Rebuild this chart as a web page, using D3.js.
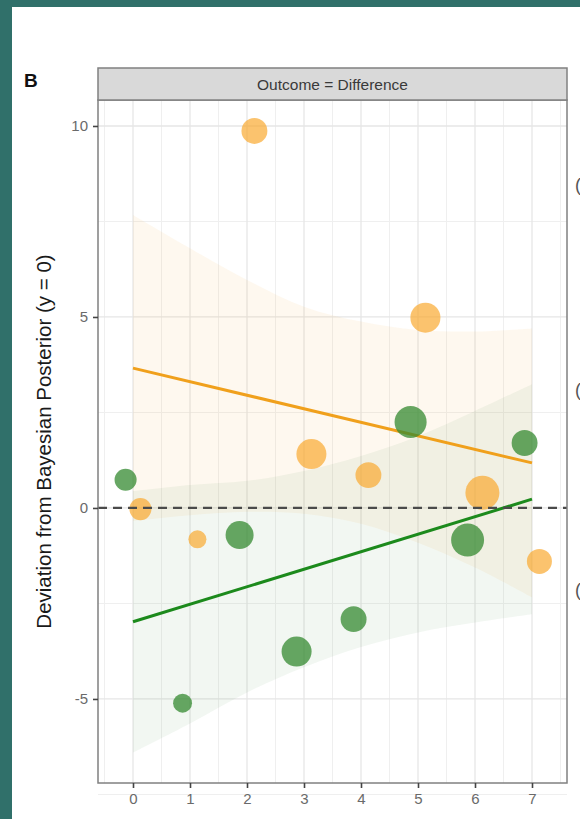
<!DOCTYPE html>
<html>
<head>
<meta charset="utf-8">
<script src="https://cdn.jsdelivr.net/npm/d3@7"></script>
<style>
  html, body { margin: 0; padding: 0; background: #30706a; }
  svg { display: block; }
</style>
</head>
<body>
<svg id="chart" width="580" height="819"></svg>
<script>
// ---- data ----
const doses = [0, 1, 2, 3, 4, 5, 6, 7];
const xTicks = [0, 1, 2, 3, 4, 5, 6, 7];
const yTicks = [-5, 0, 5, 10];
const stripLabel = "Outcome = Difference";
const yTitle = "Deviation from Bayesian Posterior (y = 0)";

// observed deviations per group
const greenValues  = [0.74, -5.11, -0.71, -3.76, -2.91, 2.25, -0.84, 1.70];
const orangeValues = [-0.03, -0.82, 9.87, 1.41, 0.86, 4.98, 0.40, -1.40];
// point weights (area encoded)
const greenWeights  = [42, 31, 68, 78, 58, 89, 94, 58];
const orangeWeights = [42, 28, 58, 78, 58, 78, 100, 54];

// fitted trend at first and last dose
const greenFit  = [-2.98, 0.23];
const orangeFit = [3.66, 1.18];

// confidence band per dose
const greenLower  = [-6.40, -5.64, -4.83, -4.17, -3.64, -3.26, -3.00, -2.78];
const greenUpper  = [0.44, 0.60, 0.71, 0.97, 1.36, 1.88, 2.54, 3.24];
const orangeLower = [-0.34, -0.19, -0.10, -0.15, -0.41, -0.91, -1.56, -2.34];
const orangeUpper = [7.67, 6.80, 5.97, 5.27, 4.88, 4.66, 4.62, 4.70];

// ---- layout ----
const svg = d3.select("#chart");
const font = "'Liberation Sans', Arial, Helvetica, sans-serif";
const P = { left: 98, right: 567, top: 100, bottom: 783 };
const stripTop = 68;
const dodge = 0.13;

const x = d3.scaleLinear().domain([-0.614, 7.614]).range([P.left, P.right]);
const y = d3.scaleLinear().domain([-7.2, 10.68]).range([P.bottom, P.top]);
const r = d3.scaleSqrt().domain([0, 100]).range([0, 17]);

// page background
svg.append("rect").attr("x", 12).attr("y", 7).attr("width", 568).attr("height", 812).attr("fill", "#ffffff");

// panel label
svg.append("text").attr("x", 24).attr("y", 87)
  .attr("font-family", font).attr("font-weight", "bold").attr("font-size", 19)
  .attr("fill", "#111").text("B");

// panel background
svg.append("rect").attr("x", P.left).attr("y", P.top)
  .attr("width", P.right - P.left).attr("height", P.bottom - P.top).attr("fill", "#fff");

const grid = svg.append("g");
// minor grid
const xMinor = d3.range(-0.5, 8, 1);
const yMinor = [-7.5, -2.5, 2.5, 7.5];
grid.selectAll(".xm").data(xMinor).join("line")
  .attr("x1", d => x(d)).attr("x2", d => x(d)).attr("y1", P.top).attr("y2", P.bottom)
  .attr("stroke", "#efefef").attr("stroke-width", 1);
grid.selectAll(".ym").data(yMinor).join("line")
  .attr("y1", d => y(d)).attr("y2", d => y(d)).attr("x1", P.left).attr("x2", P.right)
  .attr("stroke", "#efefef").attr("stroke-width", 1);
// major grid
grid.selectAll(".xM").data(xTicks).join("line")
  .attr("x1", d => x(d)).attr("x2", d => x(d)).attr("y1", P.top).attr("y2", P.bottom)
  .attr("stroke", "#e6e6e6").attr("stroke-width", 1.3);
grid.selectAll(".yM").data(yTicks).join("line")
  .attr("y1", d => y(d)).attr("y2", d => y(d)).attr("x1", P.left).attr("x2", P.right)
  .attr("stroke", "#e6e6e6").attr("stroke-width", 1.3);

// confidence bands
const band = (lo, hi) => d3.area()
  .x((d, i) => x(doses[i]))
  .y0((d, i) => y(lo[i]))
  .y1((d, i) => y(hi[i]))
  .curve(d3.curveCatmullRom)(doses);

svg.append("path").attr("d", band(orangeLower, orangeUpper))
  .attr("fill", "#f5a623").attr("fill-opacity", 0.075);
svg.append("path").attr("d", band(greenLower, greenUpper))
  .attr("fill", "#4a9444").attr("fill-opacity", 0.07);

// trend lines
const trend = (fit, color) => svg.append("line")
  .attr("x1", x(doses[0])).attr("y1", y(fit[0]))
  .attr("x2", x(doses[doses.length - 1])).attr("y2", y(fit[1]))
  .attr("stroke", color).attr("stroke-width", 3);
trend(orangeFit, "#f0a01c");
trend(greenFit, "#1c8a1c");

// points
const pts = (vals, wts, off, color, op) => svg.append("g").selectAll("circle")
  .data(vals.map((v, i) => ({ d: doses[i] + off, v, w: wts[i] })))
  .join("circle")
  .attr("cx", p => x(p.d)).attr("cy", p => y(p.v)).attr("r", p => r(p.w))
  .attr("fill", color).attr("fill-opacity", op);
pts(greenValues, greenWeights, -dodge, "#348a30", 0.75);
pts(orangeValues, orangeWeights, dodge, "#f9a62a", 0.68);

// reference line at zero
svg.append("line").attr("x1", P.left).attr("x2", P.right)
  .attr("y1", y(0)).attr("y2", y(0))
  .attr("stroke", "#4a4a4a").attr("stroke-width", 2.3).attr("stroke-dasharray", "9,6");

// panel border
svg.append("rect").attr("x", P.left).attr("y", P.top)
  .attr("width", P.right - P.left).attr("height", P.bottom - P.top)
  .attr("fill", "none").attr("stroke", "#808080").attr("stroke-width", 1.5);

// facet strip
svg.append("rect").attr("x", P.left).attr("y", stripTop)
  .attr("width", P.right - P.left).attr("height", P.top - stripTop)
  .attr("fill", "#d9d9d9").attr("stroke", "#808080").attr("stroke-width", 1.5);
svg.append("text").attr("x", (P.left + P.right) / 2).attr("y", 89.5)
  .attr("text-anchor", "middle").attr("font-family", font).attr("font-size", 15.5)
  .attr("fill", "#3a3a3a").text(stripLabel);

// axes
const xAxis = svg.append("g").attr("transform", `translate(0,${P.bottom})`)
  .call(d3.axisBottom(x).tickValues(xTicks).tickSize(5).tickPadding(5).tickFormat(d3.format("d")));
const yAxis = svg.append("g").attr("transform", `translate(${P.left},0)`)
  .call(d3.axisLeft(y).tickValues(yTicks).tickSize(5).tickPadding(5).tickFormat(d3.format("d")));
[xAxis, yAxis].forEach(a => {
  a.select(".domain").remove();
  a.selectAll(".tick line").attr("stroke", "#444").attr("stroke-width", 1.6);
  a.selectAll(".tick text").attr("font-family", font).attr("font-size", 15).attr("fill", "#6a6a6a");
});
yAxis.selectAll(".tick text").text(d => d === -5 ? "-5" : d);

// y axis title
svg.append("text")
  .attr("transform", `translate(51,${(P.top + P.bottom) / 2}) rotate(-90)`)
  .attr("text-anchor", "middle").attr("font-family", font).attr("font-size", 20.5)
  .attr("fill", "#1a1a1a").text(yTitle);

// neighbouring legend glyphs at the right edge
[185, 390, 590].forEach(py => {
  svg.append("text").attr("x", 575).attr("y", py + 6)
    .attr("font-family", font).attr("font-size", 18).attr("fill", "#555").text("(");
});
</script>
</body>
</html>
